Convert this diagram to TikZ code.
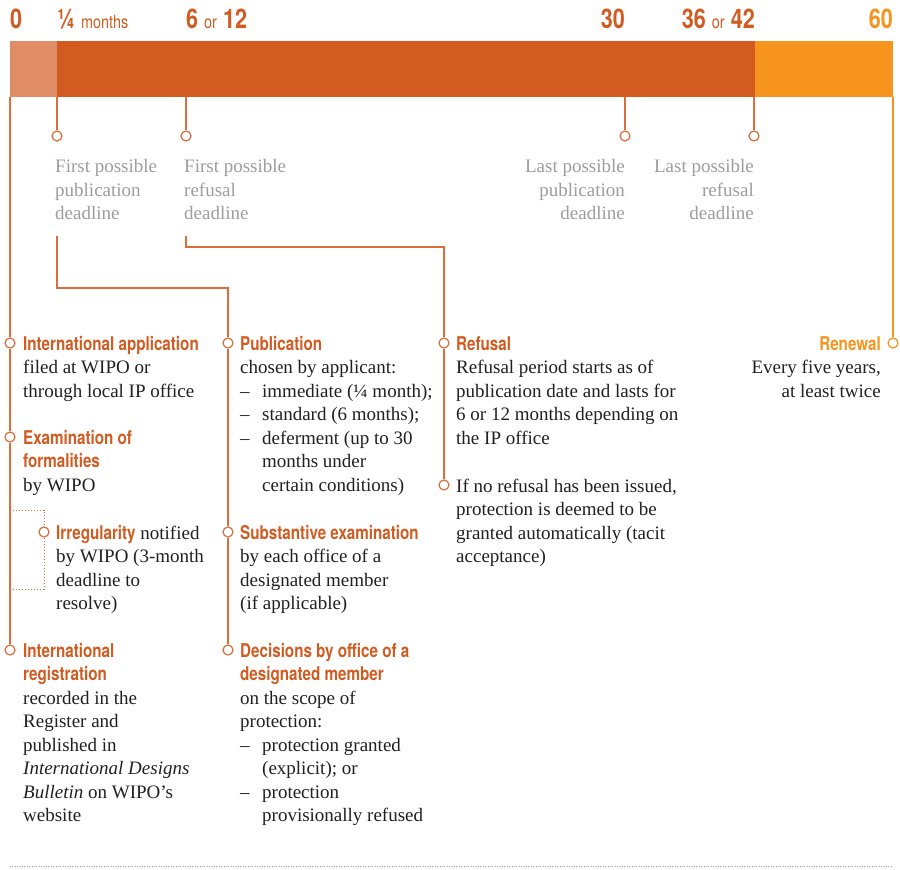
\documentclass[tikz,border=0pt]{standalone}
\usepackage{fontspec}
\setmainfont{Liberation Serif}
\newfontfamily\condfont{TeX Gyre Heros}[FakeStretch=0.8]
\definecolor{darkor}{HTML}{D15B20}
\definecolor{lightor}{HTML}{E08C65}
\definecolor{brightor}{HTML}{F6941E}
\definecolor{lineor}{HTML}{DC6E3C}
\definecolor{greytext}{HTML}{9D9D9D}
\definecolor{bodytext}{HTML}{231F20}
\newcommand{\hd}[1]{{\condfont\bfseries\color{darkor}#1}}
\newcommand{\sm}[1]{{\mdseries\fontsize{18}{18}\selectfont #1}}
\newcommand{\itm}{\makebox[22pt][l]{–}}
\tikzset{
  dot/.style={circle,draw=lineor,fill=white,line width=1.2pt,minimum size=10pt,inner sep=0pt},
  conn/.style={draw=lineor,line width=1.4pt},
  txt/.style={anchor=base west,align=left,inner sep=0pt,font=\fontsize{19}{23.5}\selectfont,text=bodytext},
  grey/.style={txt,text=greytext},
  num/.style={anchor=base west,inner sep=0pt,font=\condfont\bfseries\fontsize{27}{27}\selectfont,text=darkor}
}
\begin{document}
\begin{tikzpicture}[x=1pt,y=-1pt]
  \useasboundingbox (0,0) rectangle (900,870);
  \fill[lightor] (10,41) rectangle (57,97);
  \fill[darkor] (57,41) rectangle (755,97);
  \fill[brightor] (755,41) rectangle (893,97);
  \node[num] (m0) at (10,28) {0};
  \node[num] (m1) at (57,28) {¼ \sm{months}};
  \node[num] (m6) at (186,28) {6 \sm{or} 12};
  \node[num,anchor=base east] (m30) at (625,28) {30};
  \node[num,anchor=base east] (m36) at (755,28) {36 \sm{or} 42};
  \node[num,anchor=base east,text=brightor] (m60) at (893,28) {60};
  \coordinate (b0) at (10,97);
  \coordinate (b1) at (57,97);
  \coordinate (b2) at (186,97);
  \coordinate (b3) at (625,97);
  \coordinate (b4) at (754,97);
  \coordinate (b5) at (893,97);
  \coordinate (u1) at (57,236);
  \coordinate (k1) at (57,288);
  \coordinate (u2) at (186,236);
  \coordinate (k2) at (186,247);
  \coordinate (d1) at (10,510);
  \coordinate (d2) at (10,589);
  \node[dot] (p1) at (57,136) {};
  \node[dot] (p2) at (186,136) {};
  \node[dot] (p3) at (625,136) {};
  \node[dot] (p4) at (754,136) {};
  \node[dot] (ia) at (10,343) {};
  \node[dot] (ef) at (10,437) {};
  \node[dot] (irr) at (44,532) {};
  \node[dot] (ireg) at (10,650) {};
  \node[dot] (pub) at (228,343) {};
  \node[dot] (sub) at (228,532) {};
  \node[dot] (dec) at (228,650) {};
  \node[dot] (ref) at (444,343) {};
  \node[dot] (nor) at (444,485) {};
  \node[dot,draw=brightor] (ren) at (893,343) {};
  \node[grey] (l1) at (55,219.5) {First possible\\publication\\deadline};
  \node[grey] (l2) at (184,219.5) {First possible\\refusal\\deadline};
  \node[grey,anchor=base east,align=right] (l3) at (625,219.5) {Last possible\\publication\\deadline};
  \node[grey,anchor=base east,align=right] (l4) at (754,219.5) {Last possible\\refusal\\deadline};
  \node[txt] (tia) at (23,397) {\hd{International application}\\filed at WIPO or\\through local IP office};
  \node[txt] (tef) at (23,491) {\hd{Examination of}\\\hd{formalities}\\by WIPO};
  \node[txt] (tirr) at (56,609.5) {\hd{Irregularity} notified\\by WIPO (3-month\\deadline to\\resolve)};
  \node[txt] (tireg) at (23,821.5) {\hd{International}\\\hd{registration}\\recorded in the\\Register and\\published in\\\textit{International Designs}\\\textit{Bulletin} on WIPO's\\website};
  \node[txt] (tpub) at (240,491) {\hd{Publication}\\chosen by applicant:\\\itm immediate (¼ month);\\\itm standard (6 months);\\\itm deferment (up to 30\\\hspace*{22pt}months under\\\hspace*{22pt}certain conditions)};
  \node[txt] (tsub) at (240,609.5) {\hd{Substantive examination}\\by each office of a\\designated member\\(if applicable)};
  \node[txt] (tdec) at (240,821.5) {\hd{Decisions by office of a}\\\hd{designated member}\\on the scope of\\protection:\\\itm protection granted\\\hspace*{22pt}(explicit); or\\\itm protection\\\hspace*{22pt}provisionally refused};
  \node[txt] (tref) at (456,444) {\hd{Refusal}\\Refusal period starts as of\\publication date and lasts for\\6 or 12 months depending on\\the IP office};
  \node[txt] (tnor) at (456,562.5) {If no refusal has been issued,\\protection is deemed to be\\granted automatically (tacit\\acceptance)};
  \node[txt,anchor=base east,align=right] (tren) at (881,397) {{\condfont\bfseries\color{brightor}Renewal}\\Every five years,\\at least twice};
  \begin{scope}[conn]
    \draw (b0) -- (ia);
    \draw (ia) -- (ef);
    \draw (ef) -- (ireg);
    \draw (b1) -- (p1);
    \draw (b2) -- (p2);
    \draw (b3) -- (p3);
    \draw (b4) -- (p4);
    \draw (u1) -- (k1) -| (pub);
    \draw (u2) -- (k2) -| (ref);
    \draw (pub) -- (sub);
    \draw (sub) -- (dec);
    \draw (ref) -- (nor);
    \draw[brightor] (b5) -- (ren);
    \draw[line width=1pt,dash pattern=on 1.2pt off 1.8pt] (d1) -| (irr) |- (d2);
  \end{scope}
  \draw[greytext,line width=0.8pt,dash pattern=on 0.8pt off 1.6pt] (10,866) -- (893,866);
\end{tikzpicture}
\end{document}
